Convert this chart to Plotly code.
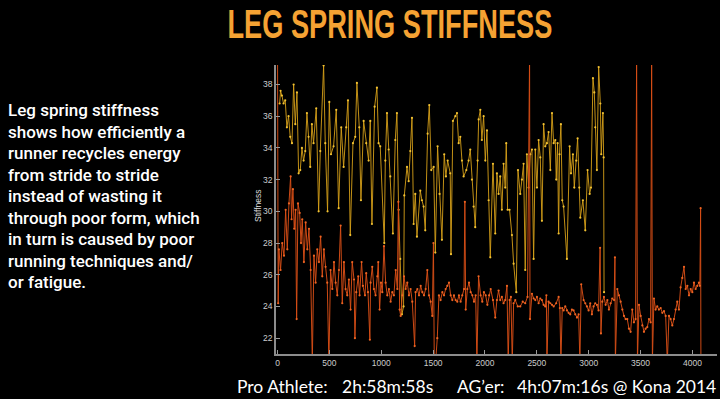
import plotly.graph_objects as go

# ---------------- data ----------------
YELLOW_X = [20, 29, 42, 58, 74, 90, 106, 122, 139, 155, 171, 187, 203, 219, 235, 251, 267, 283, 299, 315,
            331, 347, 373, 396, 412, 444, 460, 482, 499, 515, 540, 566, 589, 614, 637, 662, 679, 701, 727, 749,
            765, 788, 804, 830, 855, 878, 894, 910, 936, 958, 974, 990, 1029, 1039, 1055, 1071, 1087, 1112, 1135, 1151,
            1167, 1183, 1199, 1215, 1222, 1248, 1264, 1280, 1296, 1312, 1328, 1344, 1376, 1392, 1408, 1424, 1447, 1463, 1482, 1505,
            1521, 1543, 1562, 1585, 1607, 1623, 1640, 1665, 1672, 1691, 1714, 1730, 1746, 1762, 1778, 1794, 1820, 1842, 1858, 1874,
            1890, 1906, 1929, 1939, 1955, 1970, 1987, 2003, 2019, 2035, 2051, 2077, 2099, 2115, 2131, 2147, 2163, 2179, 2195, 2205,
            2218, 2237, 2260, 2276, 2302, 2318, 2340, 2356, 2372, 2388, 2404, 2420, 2437, 2453, 2469, 2485, 2501, 2517, 2533, 2549,
            2565, 2581, 2597, 2613, 2630, 2646, 2662, 2678, 2687, 2700, 2710, 2719, 2732, 2745, 2758, 2790, 2816, 2829, 2848, 2861,
            2880, 2893, 2909, 2919, 2944, 2967, 2989, 3009, 3022, 3041, 3054, 3063, 3079, 3096, 3112, 3121, 3137, 3144, 3148]
YELLOW_Y = [36.8, 37.6, 37.3, 36.8, 37.0, 35.3, 36.0, 34.7, 34.3, 38.0, 35.5, 37.5, 32.4, 32.6, 34.0, 33.2, 33.8, 36.2, 34.7, 32.8,
            35.5, 34.3, 36.5, 30.0, 33.8, 39.2, 34.3, 30.0, 36.9, 33.6, 34.1, 36.4, 30.2, 35.3, 32.8, 35.3, 37.0, 28.5, 34.3, 34.7,
            38.1, 35.3, 30.7, 35.7, 34.3, 33.2, 35.7, 29.2, 36.6, 37.8, 34.3, 34.1, 28.0, 33.2, 36.2, 33.9, 32.2, 28.6, 34.5, 36.2,
            30.1, 27.0, 23.5, 24.0, 31.0, 32.8, 31.9, 33.8, 35.9, 29.2, 31.1, 28.4, 31.3, 30.7, 30.3, 28.8, 34.9, 36.7, 32.6, 32.8,
            27.4, 34.1, 31.1, 28.2, 33.6, 32.2, 33.2, 32.4, 27.3, 35.7, 36.0, 36.2, 34.3, 34.7, 33.2, 32.2, 32.6, 33.2, 33.9, 32.0,
            30.3, 29.0, 33.2, 35.8, 36.4, 34.5, 36.0, 33.2, 35.1, 30.7, 27.1, 33.0, 28.6, 32.4, 31.1, 32.2, 30.1, 33.0, 31.5, 34.3,
            30.1, 30.1, 28.5, 26.7, 24.9, 32.6, 31.1, 32.0, 33.0, 26.3, 33.6, 31.5, 33.6, 33.9, 27.0, 33.9, 31.5, 34.5, 33.4, 29.4,
            35.5, 34.1, 34.3, 35.0, 32.6, 36.2, 34.3, 34.5, 32.0, 34.3, 28.6, 33.6, 35.5, 30.7, 30.3, 27.0, 34.1, 32.4, 33.6, 31.5,
            33.2, 34.6, 31.5, 29.6, 30.7, 28.8, 32.6, 31.1, 31.5, 38.4, 37.5, 35.3, 32.6, 39.1, 36.8, 33.6, 36.2, 33.4, 24.9]

ORANGE_X = [0, 6, 13, 29, 45, 62, 78, 94, 110, 126, 135, 148, 161, 174, 184, 197, 213, 226, 238, 254,
            271, 287, 303, 319, 335, 351, 367, 383, 399, 415, 431, 447, 463, 479, 495, 511, 528, 544, 560, 576,
            592, 608, 624, 640, 656, 672, 688, 704, 720, 737, 746, 759, 778, 791, 810, 823, 843, 855, 872, 890,
            897, 913, 929, 945, 962, 971, 984, 997, 1010, 1026, 1042, 1058, 1074, 1090, 1106, 1122, 1139, 1155, 1165, 1177,
            1187, 1203, 1219, 1235, 1251, 1267, 1283, 1299, 1322, 1331, 1348, 1364, 1380, 1396, 1412, 1428, 1444, 1460, 1476, 1492,
            1503, 1511, 1524, 1540, 1556, 1572, 1589, 1605, 1621, 1637, 1653, 1669, 1685, 1701, 1717, 1733, 1749, 1765, 1781, 1798,
            1806, 1814, 1830, 1846, 1862, 1878, 1894, 1910, 1922, 1938, 1958, 1974, 1990, 2007, 2023, 2039, 2055, 2077, 2099, 2115,
            2131, 2147, 2163, 2179, 2195, 2212, 2224, 2237, 2250, 2263, 2276, 2292, 2316, 2340, 2364, 2388, 2410, 2430, 2434, 2453,
            2470, 2485, 2501, 2517, 2533, 2549, 2565, 2581, 2592, 2597, 2613, 2630, 2646, 2662, 2686, 2710, 2722, 2732, 2745, 2758,
            2774, 2790, 2806, 2822, 2838, 2854, 2870, 2887, 2903, 2915, 2928, 2951, 2967, 2983, 2999, 3015, 3031, 3047, 3063, 3079,
            3095, 3110, 3118, 3131, 3147, 3163, 3180, 3195, 3211, 3227, 3245, 3253, 3257, 3276, 3292, 3308, 3324, 3340, 3356, 3372,
            3388, 3404, 3420, 3436, 3452, 3462, 3470, 3485, 3501, 3517, 3533, 3549, 3565, 3581, 3597, 3607, 3614, 3629, 3645, 3661,
            3677, 3694, 3710, 3726, 3742, 3758, 3774, 3790, 3806, 3822, 3838, 3854, 3870, 3886, 3902, 3919, 3935, 3951, 3967, 3983,
            3999, 4015, 4031, 4047, 4063, 4072, 4079, 4082]
ORANGE_Y = [39.6, 24.2, 27.6, 26.3, 28.0, 27.2, 30.1, 27.6, 30.5, 32.2, 29.5, 31.4, 28.9, 30.1, 23.2, 30.5, 29.9, 28.0, 29.5, 26.8,
            29.3, 27.6, 28.9, 26.3, 20.5, 27.2, 25.5, 27.6, 26.8, 28.4, 25.9, 27.6, 26.5, 25.5, 20.5, 26.3, 25.1, 26.8, 25.5, 24.7,
            26.3, 29.1, 24.2, 26.8, 25.1, 24.7, 25.7, 23.8, 26.8, 25.7, 22.0, 24.9, 25.9, 24.7, 26.8, 25.3, 24.7, 26.1, 24.9, 21.9,
            25.5, 26.5, 25.1, 24.7, 25.9, 26.8, 23.8, 25.5, 24.9, 27.8, 25.5, 24.7, 25.1, 24.3, 24.9, 24.7, 26.3, 25.1, 30.6, 23.8,
            23.4, 24.7, 25.9, 25.1, 25.5, 24.7, 25.1, 24.3, 21.5, 24.9, 25.1, 24.7, 25.3, 24.9, 24.7, 25.1, 26.3, 24.7, 24.3, 23.4,
            28.0, 20.5, 20.5, 22.0, 24.7, 24.4, 24.9, 24.7, 25.1, 25.3, 25.5, 24.7, 24.4, 24.7, 24.4, 24.3, 24.7, 24.3, 24.7, 25.1,
            30.6, 23.8, 25.1, 25.5, 24.9, 24.7, 24.3, 24.7, 20.5, 25.9, 24.7, 24.3, 24.9, 24.7, 24.1, 24.7, 25.1, 24.4, 23.3, 24.4,
            25.0, 24.4, 24.6, 24.2, 24.4, 25.3, 20.5, 24.4, 24.6, 20.5, 24.2, 24.4, 24.0, 24.0, 24.3, 24.2, 24.6, 40.0, 23.2, 24.8,
            24.5, 24.4, 24.6, 24.2, 24.5, 24.4, 24.1, 24.0, 24.7, 20.5, 24.3, 24.2, 24.1, 24.0, 24.2, 24.6, 23.9, 20.5, 23.9, 23.75,
            24.0, 23.75, 23.6, 23.5, 23.8, 23.75, 23.5, 23.3, 23.5, 20.5, 25.4, 24.4, 24.2, 24.0, 23.75, 24.2, 23.5, 24.0, 24.2, 24.1,
            23.75, 27.7, 22.3, 24.3, 24.6, 24.1, 24.4, 23.8, 24.2, 24.5, 24.4, 27.1, 20.5, 25.1, 24.7, 24.3, 23.8, 23.4, 23.2, 23.2,
            22.6, 22.4, 23.8, 23.0, 23.2, 40.0, 20.5, 24.1, 23.4, 22.8, 22.4, 22.6, 22.7, 23.2, 23.0, 40.0, 20.5, 24.5, 23.8, 24.0,
            23.8, 23.9, 23.6, 23.7, 23.4, 20.5, 23.4, 23.2, 22.8, 23.2, 23.8, 24.3, 23.8, 25.2, 25.8, 26.5, 25.1, 25.3, 24.7, 25.1,
            24.9, 25.5, 25.1, 25.3, 25.5, 25.3, 30.2, 20.5]

X_TICKS = [0, 500, 1000, 1500, 2000, 2500, 3000, 3500, 4000]
Y_TICKS = [22, 24, 26, 28, 30, 32, 34, 36, 38]

TITLE = "LEG SPRING STIFFNESS"
Y_TITLE = "Stiffness"
LEFT_LINES = ["Leg spring stiffness", "shows how efficiently a", "runner recycles energy",
              "from stride to stride", "instead of wasting it", "through poor form, which",
              "in turn is caused by poor", "running techniques and/", "or fatigue."]
FOOTER = ["Pro Athlete:", "2h:58m:58s", "AG\u2019er:", "4h:07m:16s @ Kona 2014"]

# ---------------- layout helpers ----------------
W, H = 720, 399
L, R, T, B = 276, 3, 65, 45
PW, PH = W - L - R, H - T - B


def px(x):
    return (x - L) / PW


def py(y):
    return (H - B - y) / PH


fig = go.Figure()
fig.add_trace(go.Scatter(x=YELLOW_X, y=YELLOW_Y, mode="lines+markers",
                         line=dict(color="rgba(214,160,24,0.9)", width=1),
                         marker=dict(size=2.2, color="#f2c233"), showlegend=False))
fig.add_trace(go.Scatter(x=ORANGE_X, y=ORANGE_Y, mode="lines+markers",
                         line=dict(color="rgba(216,78,22,0.95)", width=1),
                         marker=dict(size=2.2, color="#ee6422"), showlegend=False))

axis_common = dict(showgrid=False, zeroline=False, showline=True, linecolor="#8c8c8c", linewidth=1.5,
                   ticks="inside", ticklen=4, tickwidth=1, tickcolor="#9a9a9a",
                   tickfont=dict(family="Liberation Sans", size=8.5, color="#cccccc"))
fig.update_xaxes(range=[-15, 4237], tickvals=X_TICKS, **axis_common)
fig.update_yaxes(range=[21.0, 39.23], tickvals=Y_TICKS, **axis_common)

ann = []
ann.append(dict(text="<b>" + TITLE + "</b>", x=px(390), y=py(24), xref="paper", yref="paper",
                xanchor="center", yanchor="middle", showarrow=False,
                font=dict(family="Liberation Sans, Arial, sans-serif", size=40, color="#f5a233")))
ann.append(dict(text=Y_TITLE, x=px(258), y=py(206), xref="paper", yref="paper", textangle=-90,
                xanchor="center", yanchor="middle", showarrow=False,
                font=dict(family="Liberation Sans", size=8.5, color="#dddddd")))
for i, line in enumerate(LEFT_LINES):
    ann.append(dict(text=line, x=px(6), y=py(110 + 21.5 * i), xref="paper", yref="paper",
                    xanchor="left", yanchor="middle", align="left", showarrow=False,
                    font=dict(family="Roboto", size=17, color="#ffffff", weight=500)))
for txt, xl in zip(FOOTER, [235, 340, 455, 515]):
    ann.append(dict(text=txt, x=px(xl), y=py(386), xref="paper", yref="paper",
                    xanchor="left", yanchor="middle", showarrow=False,
                    font=dict(family="Lato", size=17.5, color="#ffffff")))

fig.update_layout(width=W, height=H, margin=dict(l=L, r=R, t=T, b=B),
                  paper_bgcolor="#000000", plot_bgcolor="#000000", annotations=ann)

# remove the page's default body margin and narrow the condensed headline to its width in the slide
POST = """
document.body.style.margin = '0';
document.querySelectorAll('text.annotation-text').forEach(function (t) {
  if (t.textContent === '%s') {
    var w = t.getBBox().width;
    t.style.transformBox = 'fill-box';
    t.style.transformOrigin = 'center';
    t.style.transform = 'scaleX(' + (325 / w) + ')';
  }
});
""" % TITLE

fig.write_html("out.html", post_script=POST, config={"displayModeBar": False})
